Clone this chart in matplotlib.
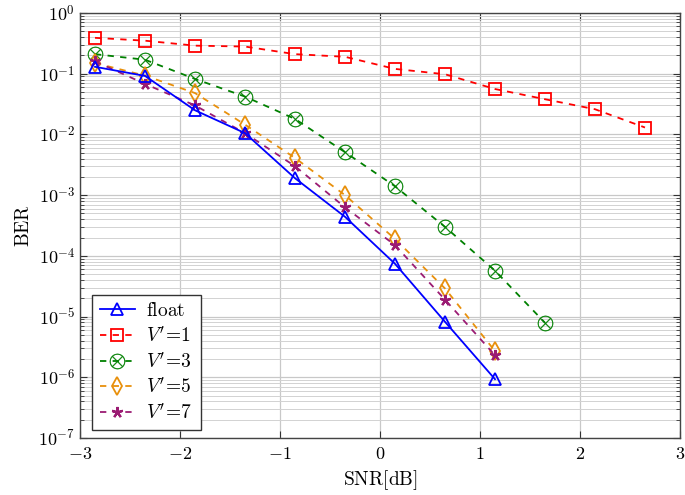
import numpy as np
import matplotlib
matplotlib.use("Agg")
import matplotlib.pyplot as plt
from matplotlib.ticker import FixedLocator, FuncFormatter, NullFormatter

plt.rcParams['mathtext.fontset'] = 'cm'
plt.rcParams['font.family'] = ['DejaVu Serif']

snr = [-2.85, -2.35, -1.85, -1.35, -0.85, -0.35, 0.15, 0.65, 1.15, 1.65, 2.15, 2.65]

ber_float = [0.13, 0.092, 0.025, 0.0105, 1.9e-3, 4.4e-4, 7.4e-5, 8.2e-6, 9.3e-7]
ber_v1 = [0.39, 0.35, 0.29, 0.28, 0.21, 0.19, 0.12, 0.098, 0.056, 0.038, 0.026, 0.013]
ber_v3 = [0.21, 0.17, 0.082, 0.042, 0.018, 5.1e-3, 1.4e-3, 3.0e-4, 5.7e-5, 7.9e-6]
ber_v5 = [0.15, 0.093, 0.048, 0.0145, 4.1e-3, 1.0e-3, 1.9e-4, 2.9e-5, 2.7e-6]
ber_v7 = [0.16, 0.068, 0.030, 0.0105, 3.0e-3, 6.3e-4, 1.5e-4, 1.9e-5, 2.3e-6]

labels = [r'$\mathrm{float}$', r"$V'\!=\!1$", r"$V'\!=\!3$", r"$V'\!=\!5$", r"$V'\!=\!7$"]
xticks = [-3, -2, -1, 0, 1, 2, 3]
ydecades = [-7, -6, -5, -4, -3, -2, -1, 0]

fig = plt.figure(figsize=(6.85, 4.95), dpi=100)
ax = fig.add_axes([80/685, 57/495, 600/685, 425/495])

ms = 8
dash = (0, (3.5, 3.5))
ax.plot(snr[:len(ber_float)], ber_float, color='#0000ff', lw=1.3, ls='-',
        marker='^', ms=ms+1, mfc='none', mew=1.3, label=labels[0], zorder=5)
ax.plot(snr[:len(ber_v1)], ber_v1, color='#ff0000', lw=1.3, ls=dash,
        marker='s', ms=ms+1, mfc='none', mew=1.3, label=labels[1], zorder=4)
ax.plot(snr[:len(ber_v3)], ber_v3, color='#008000', lw=1.3, ls=dash,
        marker=r'$\otimes$', ms=ms+3, mew=0.3, label=labels[2], zorder=4)
ax.plot(snr[:len(ber_v5)], ber_v5, color='#e8900c', lw=1.3, ls=dash,
        marker='d', ms=ms+1, mfc='none', mew=1.3, label=labels[3], zorder=4)
ax.plot(snr[:len(ber_v7)], ber_v7, color='#9b1b73', lw=1.3, ls=dash,
        marker=(5, 2, 0), ms=ms, mew=1.6, label=labels[4], zorder=4)

ax.set_yscale('log')
ax.set_xlim(-3, 3)
ax.set_ylim(1e-7, 1)
ax.xaxis.set_major_locator(FixedLocator(xticks))
ax.xaxis.set_major_formatter(FuncFormatter(lambda v, p: r'$%d$' % round(v)))
ax.yaxis.set_major_locator(FixedLocator([10.0 ** d for d in ydecades]))
minors = [m * 10.0 ** d for d in ydecades[:-1] for m in range(2, 10)]
ax.yaxis.set_minor_locator(FixedLocator(minors))
ax.yaxis.set_minor_formatter(NullFormatter())
ax.yaxis.set_major_formatter(FuncFormatter(lambda v, p: r'$10^{%d}$' % round(np.log10(v))))

ax.grid(True, which='major', color='#c8c8c8', lw=0.9)
ax.grid(True, which='minor', axis='y', color='#d2d2d2', lw=0.7)
ax.set_axisbelow(True)

ax.tick_params(which='both', direction='in', top=True, right=True, labelsize=13, colors='#333333')
ax.tick_params(which='major', length=5)
ax.tick_params(which='minor', length=3)
ax.tick_params(axis='both', labelcolor='black')
ax.tick_params(axis='x', pad=5)
for s in ax.spines.values():
    s.set_color('#444444')
    s.set_linewidth(1.0)

ax.set_xlabel(r'$\mathrm{SNR[dB]}$', fontsize=14, labelpad=4)
ax.set_ylabel(r'$\mathrm{BER}$', fontsize=14, labelpad=4)

leg = ax.legend(loc='lower left', bbox_to_anchor=(0.02, 0.018), fontsize=14,
                fancybox=False, edgecolor='#333333', framealpha=1,
                handlelength=1.8, handletextpad=0.6, labelspacing=0.3,
                borderpad=0.4, borderaxespad=0)
leg.get_frame().set_linewidth(1.0)

fig.savefig('out.png', dpi=100)
